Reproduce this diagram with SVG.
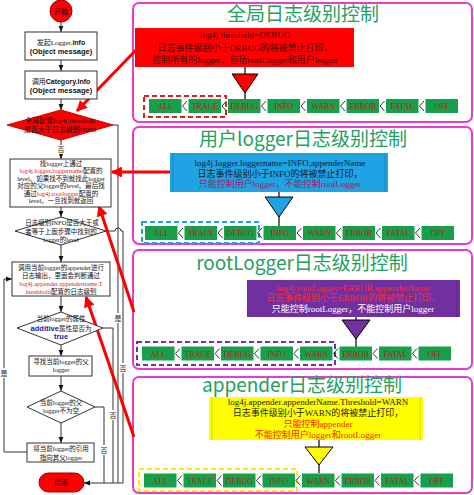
<svg xmlns="http://www.w3.org/2000/svg" width="474" height="495" viewBox="0 0 474 495">
<style>
.fl{fill:none;stroke:#333;stroke-width:1}
.bx{fill:#fff;stroke:#333;stroke-width:1}
.t{font-family:"Liberation Serif","Noto Sans CJK SC",serif;font-size:7px;fill:#111;text-anchor:middle}
.s{font-size:6.5px}
.b{font-family:"Liberation Sans",sans-serif;font-weight:bold}
.rt{fill:#e0201a}
.bl{fill:#1a1aa8;font-family:"Liberation Sans",sans-serif;font-weight:bold;font-size:7.5px}
.panel{fill:#fff;stroke:#e83ccc;stroke-width:2}
.title{font-family:"Noto Sans CJK SC",sans-serif;font-size:19px;fill:#22a060;text-anchor:middle}
.lv rect{fill:#17a04b}
.lv text{font-family:"Liberation Serif",serif;font-size:8px;fill:#b5201a;text-anchor:middle}
.chev{fill:none;stroke:#000;stroke-width:0.8}
.ra{stroke:#f00;stroke-width:3;fill:none}
.pt{font-family:"Liberation Serif","Noto Sans CJK SC",serif;font-size:9px;text-anchor:middle}
.stem{stroke:#000;stroke-width:1.2}
.lab{font-family:"Liberation Serif","Noto Sans CJK SC",serif;font-size:7px;fill:#222;text-anchor:middle}
</style>
<defs>
<marker id="ah" viewBox="0 0 10 10" refX="10" refY="5" markerWidth="6" markerHeight="6" orient="auto" markerUnits="userSpaceOnUse"><path d="M0,1L10,5L0,9z" fill="#111"/></marker>
<marker id="rah" viewBox="0 0 10 10" refX="9" refY="5" markerWidth="13" markerHeight="11" orient="auto" markerUnits="userSpaceOnUse"><path d="M0,0L10,5L0,10z" fill="#f00"/></marker>
<path id="chevs" d="M38,2L33.5,7L38,12M77.5,2L73,7L77.5,12M117,2L112.5,7L117,12M156.5,2L152,7L156.5,12M196,2L191.5,7L196,12M235.5,2L231,7L235.5,12M275,2L270.5,7L275,12"/>
</defs>

<!-- Panels -->
<g id="panel-global">
<rect class="panel" x="133" y="3" width="339" height="119" rx="6"/>
<text class="title" x="303" y="21">全局日志级别控制</text>
<rect x="135" y="28" width="219" height="39" fill="#ff0000"/>
<text class="pt" x="245" y="38" fill="#4a0a0a">log4j.threshold=DEBUG</text>
<text class="pt" x="245" y="51" fill="#4a0a0a">日志事件级别小于DEBUG的将被禁止打印，</text>
<text class="pt" x="245" y="62.5" fill="#4a0a0a">控制所有的logger，包括rootLogger和用户logger</text>
<line class="stem" x1="245" y1="67" x2="245" y2="99"/>
<polygon points="232,74 258,74 245,93" fill="#f00" stroke="#000" stroke-width="1"/>
<rect x="144" y="96" width="82" height="21" fill="none" stroke="#e02020" stroke-width="2" stroke-dasharray="5,3"/>
<g class="lv" transform="translate(149,99)">
<rect x="0" width="32.5" height="14"/><rect x="39.5" width="32.5" height="14"/><rect x="79" width="32.5" height="14"/><rect x="118.5" width="32.5" height="14"/><rect x="158" width="32.5" height="14"/><rect x="197.5" width="32.5" height="14"/><rect x="237" width="32.5" height="14"/><rect x="276.5" width="32.5" height="14"/>
<text x="16.25" y="10">ALL</text><text x="55.75" y="10">TRACE</text><text x="95.25" y="10">DEBUG</text><text x="134.75" y="10">INFO</text><text x="174.25" y="10">WARN</text><text x="213.75" y="10">ERROR</text><text x="253.25" y="10">FATAL</text><text x="292.75" y="10">OFF</text>
<use href="#chevs" class="chev"/>
</g>
</g>

<g id="panel-user">
<rect class="panel" x="133" y="127" width="339" height="117" rx="6"/>
<text class="title" x="303" y="146">用户logger日志级别控制</text>
<rect x="170" y="153" width="218" height="39" fill="#1ea3e3"/>
<line x1="173" y1="153" x2="173" y2="192" stroke="#1580b8" stroke-width="0.8"/>
<line x1="385" y1="153" x2="385" y2="192" stroke="#1580b8" stroke-width="0.8"/>
<text class="pt" x="280" y="166" fill="#102030">log4j.logger.loggername=INFO,appenderName</text>
<text class="pt" x="280" y="176.5" fill="#102030">日志事件级别小于INFO的将被禁止打印，</text>
<text class="pt" x="280" y="187" fill="#a0206a">只能控制用户logger，不能控制rootLogger</text>
<line class="stem" x1="279" y1="192" x2="279" y2="226"/>
<polygon points="265,197 293,197 279,217" fill="#1ea3e3" stroke="#000" stroke-width="1"/>
<rect x="142" y="222" width="117" height="21" fill="none" stroke="#1ea3e3" stroke-width="2" stroke-dasharray="5,3"/>
<g class="lv" transform="translate(145,226)">
<rect x="0" width="32.5" height="14"/><rect x="39.5" width="32.5" height="14"/><rect x="79" width="32.5" height="14"/><rect x="118.5" width="32.5" height="14"/><rect x="158" width="32.5" height="14"/><rect x="197.5" width="32.5" height="14"/><rect x="237" width="32.5" height="14"/><rect x="276.5" width="32.5" height="14"/>
<text x="16.25" y="10">ALL</text><text x="55.75" y="10">TRACE</text><text x="95.25" y="10">DEBUG</text><text x="134.75" y="10">INFO</text><text x="174.25" y="10">WARN</text><text x="213.75" y="10">ERROR</text><text x="253.25" y="10">FATAL</text><text x="292.75" y="10">OFF</text>
<use href="#chevs" class="chev"/>
</g>
</g>

<g id="panel-root">
<rect class="panel" x="133" y="250" width="339" height="119" rx="6"/>
<text class="title" x="302" y="270">rootLogger日志级别控制</text>
<rect x="247" y="280" width="213" height="37" fill="#7030a0"/>
<line x1="457" y1="280" x2="457" y2="317" stroke="#5a2080" stroke-width="0.8"/>
<text class="pt" x="353" y="291" fill="#ff2a2a">log4j.rootLogger=ERROR,appenderName</text>
<text class="pt" x="353" y="301" fill="#ff2a2a">日志事件级别小于ERROR的将被禁止打印，</text>
<text class="pt" x="353" y="311.5" fill="#ffffff">只能控制rootLogger，不能控制用户logger</text>
<line class="stem" x1="356" y1="317" x2="356" y2="347"/>
<polygon points="342,320 370,320 356,339" fill="#7030a0" stroke="#000" stroke-width="1"/>
<rect x="137" y="342" width="198" height="23" fill="none" stroke="#7030a0" stroke-width="2" stroke-dasharray="5,3"/>
<g class="lv" transform="translate(142,346.5)">
<rect x="0" width="32.5" height="14"/><rect x="39.5" width="32.5" height="14"/><rect x="79" width="32.5" height="14"/><rect x="118.5" width="32.5" height="14"/><rect x="158" width="32.5" height="14"/><rect x="197.5" width="32.5" height="14"/><rect x="237" width="32.5" height="14"/><rect x="276.5" width="32.5" height="14"/>
<text x="16.25" y="10">ALL</text><text x="55.75" y="10">TRACE</text><text x="95.25" y="10">DEBUG</text><text x="134.75" y="10">INFO</text><text x="174.25" y="10">WARN</text><text x="213.75" y="10">ERROR</text><text x="253.25" y="10">FATAL</text><text x="292.75" y="10">OFF</text>
<use href="#chevs" class="chev"/>
</g>
</g>

<g id="panel-appender">
<rect class="panel" x="133" y="377" width="339" height="116" rx="6"/>
<text class="title" x="302" y="392">appender日志级别控制</text>
<rect x="209" y="397" width="214" height="43" fill="#ffff00"/>
<line x1="212" y1="397" x2="212" y2="440" stroke="#d8d000" stroke-width="0.8"/>
<line x1="420" y1="397" x2="420" y2="440" stroke="#d8d000" stroke-width="0.8"/>
<text class="pt" x="318" y="405" fill="#201a10">log4j.appender.appenderName.Threshold=WARN</text>
<text class="pt" x="318" y="416" fill="#201a10">日志事件级别小于WARN的将被禁止打印，</text>
<text class="pt" x="318" y="427" fill="#ff2000">只能控制appender</text>
<text class="pt" x="318" y="438" fill="#ff2000">不能控制用户logger和rootLogger</text>
<line class="stem" x1="319" y1="440" x2="319" y2="473"/>
<polygon points="305,447 333,447 319,465" fill="#ffff00" stroke="#000" stroke-width="1"/>
<rect x="139" y="469" width="158" height="22" fill="none" stroke="#ffe800" stroke-width="2" stroke-dasharray="5,3"/>
<g class="lv" transform="translate(144,473.5)">
<rect x="0" width="32.5" height="14"/><rect x="39.5" width="32.5" height="14"/><rect x="79" width="32.5" height="14"/><rect x="118.5" width="32.5" height="14"/><rect x="158" width="32.5" height="14"/><rect x="197.5" width="32.5" height="14"/><rect x="237" width="32.5" height="14"/><rect x="276.5" width="32.5" height="14"/>
<text x="16.25" y="10">ALL</text><text x="55.75" y="10">TRACE</text><text x="95.25" y="10">DEBUG</text><text x="134.75" y="10">INFO</text><text x="174.25" y="10">WARN</text><text x="213.75" y="10">ERROR</text><text x="253.25" y="10">FATAL</text><text x="292.75" y="10">OFF</text>
<use href="#chevs" class="chev"/>
</g>
</g>

<!-- Flowchart connectors -->
<g id="connectors">
<line class="fl" x1="61" y1="22" x2="61" y2="32" marker-end="url(#ah)"/>
<line class="fl" x1="61" y1="60" x2="61" y2="71" marker-end="url(#ah)"/>
<line class="fl" x1="61" y1="99" x2="61" y2="110" marker-end="url(#ah)"/>
<line class="fl" x1="61" y1="140" x2="61" y2="159" marker-end="url(#ah)"/>
<line class="fl" x1="61" y1="207" x2="61" y2="217" marker-end="url(#ah)"/>
<line class="fl" x1="61" y1="245" x2="61" y2="262" marker-end="url(#ah)"/>
<line class="fl" x1="61" y1="296" x2="61" y2="312" marker-end="url(#ah)"/>
<line class="fl" x1="61" y1="345" x2="61" y2="356" marker-end="url(#ah)"/>
<line class="fl" x1="61" y1="376" x2="61" y2="391" marker-end="url(#ah)"/>
<line class="fl" x1="61" y1="423" x2="61" y2="443" marker-end="url(#ah)"/>
<path class="fl" d="M27,452H4V279H12" marker-end="url(#ah)"/>
<path class="fl" d="M113,125H118V483"/>
<path class="fl" d="M106,231H115A3,3 0 0 1 121,231H123V483"/>
<path class="fl" d="M103,328H113V483"/>
<path class="fl" d="M95,407H104V483"/>
<line class="fl" x1="123" y1="483" x2="84" y2="483" marker-end="url(#ah)"/>
<rect x="56" y="145" width="10" height="9" fill="#fff"/>
<text class="lab" x="61" y="152">否</text>
<rect x="0" y="368" width="8" height="10" fill="#fff"/>
<text class="lab" x="4" y="376">是</text>
<rect x="114" y="313" width="8" height="10" fill="#fff"/>
<text class="lab" x="118" y="321">是</text>
<rect x="119" y="363" width="8" height="10" fill="#fff"/>
<text class="lab" x="123" y="371">否</text>
<rect x="109" y="410" width="8" height="10" fill="#fff"/>
<text class="lab" x="113" y="418">否</text>
<rect x="100" y="445" width="8" height="10" fill="#fff"/>
<text class="lab" x="104" y="453">否</text>
<line class="ra" x1="136" y1="50" x2="77" y2="111" marker-end="url(#rah)"/>
<line class="ra" x1="170" y1="172" x2="112" y2="172" marker-end="url(#rah)"/>
<line class="ra" x1="134" y1="312" x2="99" y2="206" marker-end="url(#rah)"/>
<line class="ra" x1="134" y1="437" x2="86" y2="297" marker-end="url(#rah)"/>
</g>

<!-- Flowchart nodes -->
<g id="start">
<circle cx="61" cy="11" r="11" fill="#f00" stroke="#900" stroke-width="1"/>
<text class="t" x="61" y="13.5" fill="#700">开始</text>
</g>
<g id="box1">
<rect class="bx" x="25" y="32" width="72" height="28"/>
<text class="t" x="61" y="44.5">发起Logger.<tspan class="b">info</tspan></text>
<text class="t b" x="61" y="53.5" style="font-size:7.5px">(Object message)</text>
</g>
<g id="box2">
<rect class="bx" x="25" y="71" width="72" height="28"/>
<text class="t" x="61" y="84">调用<tspan class="b">Category.Info</tspan></text>
<text class="t b" x="61" y="92.5" style="font-size:7.5px">(Object message)</text>
</g>
<g id="dec1">
<polygon points="61,110 113,125 61,140 7,125" fill="#f00" stroke="#c00" stroke-width="1"/>
<text class="t" x="60" y="122.5" fill="#700">全局配置log4j.threshold</text>
<text class="t" x="60" y="132" fill="#700">是否大于日志级别INFO</text>
</g>
<g id="box3">
<rect class="bx" x="10" y="159" width="101" height="48"/>
<text class="t s" x="61" y="165.5">找logger上通过</text>
<text class="t s" x="61" y="173"><tspan class="rt">log4j.logger.loggername</tspan>配置的</text>
<text class="t s" x="61" y="180.6">level。如果找不到就找此logger</text>
<text class="t s" x="61" y="188.2">对应的父logger的level。最后找</text>
<text class="t s" x="61" y="195.8">通过<tspan class="rt">log4j.rootlogger</tspan>配置的</text>
<text class="t s" x="61" y="203.4">level。一旦找到就返回</text>
</g>
<g id="dec2">
<polygon points="61,217 106,231 61,245 15,231" class="bx"/>
<text class="t s" x="62" y="224.5">日志级别INFO是否大于或</text>
<text class="t s" x="61" y="233.5">者等于上面步骤中找到的</text>
<text class="t s" x="61" y="242">logger的level</text>
</g>
<g id="box4">
<rect class="bx" x="12" y="262" width="98" height="34"/>
<text class="t s" x="61" y="269.5">调用当前logger的appender进行</text>
<text class="t s" x="61" y="277.5">日志输出，里面会判断通过</text>
<text class="t s rt" x="61" y="285.5">log4j.appender.appendername.T</text>
<text class="t s" x="61" y="293.5"><tspan class="rt">hreshhold</tspan>配置的日志级别</text>
</g>
<g id="dec3">
<polygon points="61,312 103,328 61,345 17,328" class="bx"/>
<text class="t s" x="61" y="320.5">当前logger的属性</text>
<text class="t s" x="61" y="330.5"><tspan class="bl">additive</tspan>属性是否为</text>
<text class="t bl" x="61" y="339" style="text-anchor:middle">true</text>
</g>
<g id="box5">
<rect class="bx" x="29" y="356" width="63" height="20"/>
<text class="t s" x="61" y="364">寻找当前logger的父</text>
<text class="t s" x="61" y="372">logger</text>
</g>
<g id="dec4">
<polygon points="61,391 95,407 61,423 27,407" class="bx"/>
<text class="t s" x="61" y="405">当前logger的父</text>
<text class="t s" x="61" y="412.5">logger不为空</text>
</g>
<g id="box6">
<rect class="bx" x="27" y="443" width="67" height="19"/>
<text class="t s" x="61" y="451">将当前logger的引用</text>
<text class="t s" x="61" y="459.5">指向其父logger</text>
</g>
<g id="end">
<rect x="39" y="473" width="45" height="19" rx="9.5" fill="#f00" stroke="#900" stroke-width="1"/>
<text class="t" x="61" y="485" fill="#700">结束</text>
</g>
</svg>
